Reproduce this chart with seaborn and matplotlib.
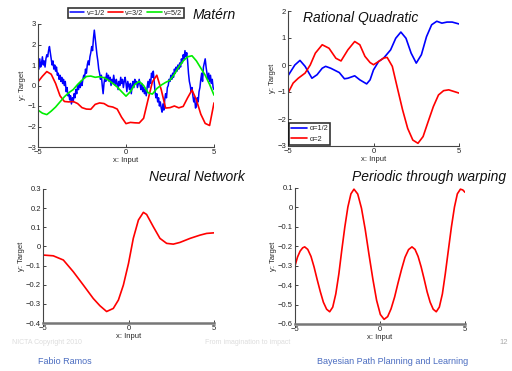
import numpy as np
import pandas as pd
import matplotlib
matplotlib.use("Agg")
import matplotlib.pyplot as plt
import seaborn as sns

# ---------------- data ----------------
# Matern panel: nu = 1/2 (rough), 3/2, 5/2
matern_x_fine = np.round(np.arange(-5.0, 5.0001, 0.05), 2)
matern_nu12 = [
    1.2, 0.8, 1.3, 0.9, 1.1, 1.4, 1.0, 1.2, 0.9, 1.3,
    1.5, 1.4, 1.7, 1.9, 1.6, 1.3, 1.0, 1.2, 0.8, 1.0,
    0.7, 0.9, 0.5, 0.6, 0.3, 0.5, 0.2, 0.4, 0.1, 0.3,
    0.0, 0.2, -0.3, -0.1, -0.5, -0.4, -0.7, -0.5, -0.9, -0.6,
    -0.8, -0.4, -0.6, -0.2, -0.4, 0.0, -0.2, 0.1, -0.1, 0.2,
    0.0, 0.3, 0.5, 0.4, 0.8, 0.6, 1.0, 1.2, 1.0, 1.4,
    1.6, 1.9, 1.7, 2.3, 2.7, 2.3, 1.9, 1.5, 1.2, 0.8,
    0.6, 0.3, 0.5, 0.0, -0.4, 0.1, 0.4, 0.2, 0.6, 0.3,
    0.5, 0.2, 0.4, 0.0, 0.3, 0.1, 0.5, 0.2, 0.0, 0.3,
    0.1, -0.2, 0.2, 0.0, 0.4, 0.1, 0.3, -0.1, 0.2, 0.4,
    0.1, -0.3, 0.2, 0.0, -0.2, 0.1, -0.4, 0.0, 0.2, -0.1,
    0.3, 0.1, 0.2, -0.1, 0.1, 0.3, 0.0, -0.2, 0.1, -0.3,
    -0.1, -0.4, -0.2, -0.5, -0.1, 0.2, -0.1, 0.3, 0.1, 0.6,
    0.4, 0.7, 0.2, -0.3, -0.6, -0.4, -0.8, -0.6, -1.0, -0.8,
    -1.1, -1.3, -0.9, -1.2, -0.7, -0.4, -0.6, -0.1, 0.0, 0.3,
    0.2, 0.5, 0.3, 0.6, 0.4, 0.8, 0.6, 0.9, 0.7, 1.0,
    0.8, 1.1, 0.9, 1.3, 1.1, 1.5, 1.3, 1.7, 1.4, 1.6,
    1.2, 0.6, 0.2, 0.0, -0.3, -0.1, -0.5, -0.8, -0.6, -1.1,
    -1.0, -0.6, -0.8, -0.3, -0.1, 0.3, 0.6, 0.2, 0.9, 1.1,
    1.3, 0.9, 0.6, 0.3, 0.6, 0.2, 0.5, 0.1, 0.3, -0.1,
    -0.2,
]
matern_x = np.round(np.arange(-5.0, 5.0001, 0.25), 2)
matern_nu32 = [0.18, 0.45, 0.68, 0.55, 0.10, -0.50, -0.78, -0.80, -0.78, -0.88,
               -1.08, -1.15, -1.16, -0.92, -0.85, -0.88, -1.01, -1.05, -1.15, -1.55,
               -1.86, -1.80, -1.82, -1.83, -1.60, -0.70, 0.18, 0.50, -0.20, -1.10,
               -1.08, -1.00, -1.09, -1.02, -0.60, -0.22, -0.70, -1.40, -1.85, -1.95,
               -0.85]
matern_nu52 = [-1.20, -1.35, -1.42, -1.25, -1.05, -0.80, -0.55, -0.35, -0.20, 0.05,
               0.26, 0.44, 0.46, 0.40, 0.43, 0.38, 0.26, 0.10, -0.07, -0.30,
               -0.52, -0.30, 0.05, 0.20, 0.00, -0.35, -0.42, -0.15, 0.02, 0.15,
               0.26, 0.55, 0.91, 1.20, 1.40, 1.45, 1.20, 0.85, 0.50, 0.05,
               -0.47]

# Rational quadratic panel
rq_x_a = [-5.0, -4.6, -4.3, -4.0, -3.6, -3.3, -3.0, -2.8, -2.5, -2.0, -1.7, -1.5,
          -1.1, -0.8, -0.4, -0.2, 0.0, 0.3, 0.6, 1.0, 1.3, 1.6, 1.9, 2.2, 2.5,
          2.8, 3.1, 3.4, 3.7, 4.0, 4.3, 4.6, 5.0]
rq_alpha_half = [-0.40, 0.00, 0.17, -0.05, -0.49, -0.36, -0.12, -0.05, -0.12, -0.28,
                 -0.51, -0.49, -0.40, -0.55, -0.70, -0.55, -0.18, 0.13, 0.26, 0.56,
                 0.99, 1.22, 0.99, 0.44, 0.07, 0.38, 1.05, 1.49, 1.62, 1.55,
                 1.59, 1.59, 1.52]
rq_x_b = [-5.0, -4.7, -4.4, -4.0, -3.7, -3.4, -3.0, -2.6, -2.2, -1.9, -1.5, -1.1,
          -0.8, -0.5, -0.2, 0.0, 0.3, 0.6, 0.8, 1.1, 1.4, 1.7, 2.0, 2.3, 2.6,
          2.9, 3.2, 3.5, 3.8, 4.1, 4.4, 4.7, 5.0]
rq_alpha_2 = [-1.04, -0.67, -0.49, -0.30, 0.00, 0.44, 0.75, 0.62, 0.25, 0.15,
              0.56, 0.87, 0.75, 0.32, 0.09, 0.01, 0.13, 0.26, 0.28, -0.05,
              -0.86, -1.66, -2.35, -2.78, -2.90, -2.65, -2.09, -1.54, -1.11, -0.95,
              -0.92, -0.98, -1.04]

# Neural network panel
nn_x = [-5.0, -4.4, -3.81, -3.23, -2.64, -2.06, -1.67, -1.28, -0.89, -0.59,
        -0.30, 0.0, 0.28, 0.58, 0.87, 1.06, 1.45, 1.84, 2.23, 2.62, 3.01, 3.60,
        4.18, 4.57, 5.0]
nn_y = [-0.045, -0.049, -0.071, -0.132, -0.202, -0.272, -0.310, -0.340, -0.324,
        -0.280, -0.202, -0.089, 0.042, 0.138, 0.178, 0.167, 0.103, 0.042, 0.016,
        0.012, 0.021, 0.042, 0.059, 0.068, 0.071]

# Periodic (through warping) panel
per_x = [-5.0, -4.85, -4.7, -4.55, -4.43, -4.25, -4.06, -3.88, -3.70, -3.51,
         -3.33, -3.14, -2.96, -2.78, -2.60, -2.42, -2.25, -2.07, -1.89, -1.71,
         -1.53, -1.31, -1.09, -0.87, -0.65, -0.42, -0.20, 0.02, 0.24, 0.45,
         0.65, 0.86, 1.06, 1.27, 1.47, 1.68, 1.88, 2.06, 2.24, 2.42,
         2.60, 2.77, 2.95, 3.13, 3.31, 3.49, 3.67, 3.84, 4.02, 4.20,
         4.38, 4.55, 4.73, 4.87, 5.0]
per_y = [-0.300, -0.255, -0.225, -0.208, -0.203, -0.216, -0.252, -0.306, -0.370, -0.434,
         -0.488, -0.524, -0.537, -0.513, -0.445, -0.342, -0.221, -0.101, 0.002, 0.070,
         0.094, 0.069, -0.004, -0.113, -0.241, -0.369, -0.478, -0.551, -0.576, -0.562,
         -0.522, -0.461, -0.389, -0.318, -0.257, -0.217, -0.203, -0.216, -0.252, -0.306,
         -0.370, -0.434, -0.488, -0.524, -0.537, -0.513, -0.445, -0.342, -0.221, -0.101,
         0.002, 0.070, 0.094, 0.090, 0.078]

# ---------------- figure ----------------
sns.set_style("white")
plt.rcParams['font.family'] = ['Liberation Sans', 'DejaVu Sans']
plt.rcParams['axes.unicode_minus'] = True

W, H = 512, 371
fig = plt.figure(figsize=(W / 100, H / 100), dpi=100)
fig.patch.set_facecolor('white')
LW = 1.2


def add_ax(l, t, r, b):
    return fig.add_axes([l / W, 1 - b / H, (r - l) / W, (b - t) / H])


def style(ax, ylim, yticks, ylabels, thick_bottom=False):
    ax.set_xlim(-5, 5)
    ax.set_ylim(*ylim)
    ax.set_xticks([-5, 0, 5])
    ax.set_xticklabels(['\u22125', '0', '5'])
    ax.set_yticks(yticks)
    ax.set_yticklabels(ylabels)
    for s in ['top', 'right']:
        ax.spines[s].set_visible(False)
    ax.spines['left'].set_color('#444444')
    ax.spines['left'].set_linewidth(0.8)
    if thick_bottom:
        ax.spines['bottom'].set_color('#777777')
        ax.spines['bottom'].set_linewidth(1.8)
    else:
        ax.spines['bottom'].set_color('#444444')
        ax.spines['bottom'].set_linewidth(0.8)
    ax.tick_params(direction='in', length=2, width=0.6, labelsize=5.5,
                   pad=1.5, colors='#222222', left=True, bottom=True)
    ax.set_xlabel('x: Input', fontsize=5.5, labelpad=0.5)
    ax.set_ylabel('y: Target', fontsize=5.5, labelpad=1)
    ax.patch.set_alpha(0)


# --- Matern ---
ax1 = add_ax(38, 24, 214, 147)
d_fine = pd.DataFrame({'x': matern_x_fine, 'y': matern_nu12})
d_32 = pd.DataFrame({'x': matern_x, 'y': matern_nu32})
d_52 = pd.DataFrame({'x': matern_x, 'y': matern_nu52})
sns.lineplot(data=d_fine, x='x', y='y', ax=ax1, color='#0000ff', lw=1.1, label='v=1/2')
sns.lineplot(data=d_32, x='x', y='y', ax=ax1, color='#ff0000', lw=LW, label='v=3/2')
sns.lineplot(data=d_52, x='x', y='y', ax=ax1, color='#00ee00', lw=LW, label='v=5/2')
style(ax1, (-3, 3), [-3, -2, -1, 0, 1, 2, 3],
      ['\u22123', '\u22122', '\u22121', '0', '1', '2', '3'])
leg = ax1.legend(loc='center', bbox_to_anchor=(0.5, 1.09), ncol=3, fontsize=5.3,
                 frameon=True, fancybox=False, handlelength=2.0, handletextpad=0.3,
                 columnspacing=0.5, borderpad=0.2, borderaxespad=0)
leg.get_frame().set_edgecolor('black')
leg.get_frame().set_linewidth(1.2)

# --- Rational Quadratic ---
ax2 = add_ax(288, 11, 459, 146)
d_a = pd.DataFrame({'x': rq_x_a, 'y': rq_alpha_half})
d_b = pd.DataFrame({'x': rq_x_b, 'y': rq_alpha_2})
sns.lineplot(data=d_a, x='x', y='y', ax=ax2, color='#0000ff', lw=LW, label='\u03b1=1/2')
sns.lineplot(data=d_b, x='x', y='y', ax=ax2, color='#ff0000', lw=LW, label='\u03b1=2')
style(ax2, (-3, 2), [-3, -2, -1, 0, 1, 2],
      ['\u22123', '\u22122', '\u22121', '0', '1', '2'])
leg2 = ax2.legend(loc='lower left', fontsize=5.3, frameon=True, fancybox=False,
                  handlelength=2.2, handletextpad=0.3, borderpad=0.3,
                  borderaxespad=0.1, labelspacing=0.5)
leg2.get_frame().set_edgecolor('black')
leg2.get_frame().set_linewidth(1.2)

# --- Neural Network ---
ax3 = add_ax(43, 189, 214, 323)
sns.lineplot(data=pd.DataFrame({'x': nn_x, 'y': nn_y}), x='x', y='y', ax=ax3,
             color='#ff0000', lw=LW)
style(ax3, (-0.4, 0.3), [-0.4, -0.3, -0.2, -0.1, 0, 0.1, 0.2, 0.3],
      ['\u22120.4', '\u22120.3', '\u22120.2', '\u22120.1', '0', '0.1', '0.2', '0.3'],
      thick_bottom=True)

# --- Periodic ---
ax4 = add_ax(295, 188, 465, 324)
sns.lineplot(data=pd.DataFrame({'x': per_x, 'y': per_y}), x='x', y='y', ax=ax4,
             color='#ff0000', lw=LW)
style(ax4, (-0.6, 0.1), [-0.6, -0.5, -0.4, -0.3, -0.2, -0.1, 0, 0.1],
      ['\u22120.6', '\u22120.5', '\u22120.4', '\u22120.3', '\u22120.2', '\u22120.1', '0', '0.1'],
      thick_bottom=True)

# --- titles ---
tkw = dict(fontsize=10, style='italic', color='#111111', va='center')
fig.text(214 / W, 1 - 15 / H, 'Matérn', ha='center', **tkw)
fig.text(361 / W, 1 - 18 / H, 'Rational Quadratic', ha='center', **tkw)
fig.text(197 / W, 1 - 177 / H, 'Neural Network', ha='center', **tkw)
fig.text(429 / W, 1 - 177 / H, 'Periodic through warping', ha='center', **tkw)

# --- footer ---
fig.text(38 / W, 1 - 362 / H, 'Fabio Ramos', fontsize=6.5, color='#4a6cc0',
         ha='left', va='center')
fig.text(317 / W, 1 - 362 / H, 'Bayesian Path Planning and Learning', fontsize=6.5,
         color='#4a6cc0', ha='left', va='center')
fig.text(12 / W, 1 - 343 / H, 'NICTA Copyright 2010', fontsize=5, color='#dddddd',
         ha='left', va='center')
fig.text(205 / W, 1 - 343 / H, 'From imagination to impact', fontsize=5,
         color='#dddddd', ha='left', va='center')
fig.text(508 / W, 1 - 343 / H, '12', fontsize=5.5, color='#aaaaaa',
         ha='right', va='center')

fig.savefig('out.png', dpi=100, facecolor='white')
